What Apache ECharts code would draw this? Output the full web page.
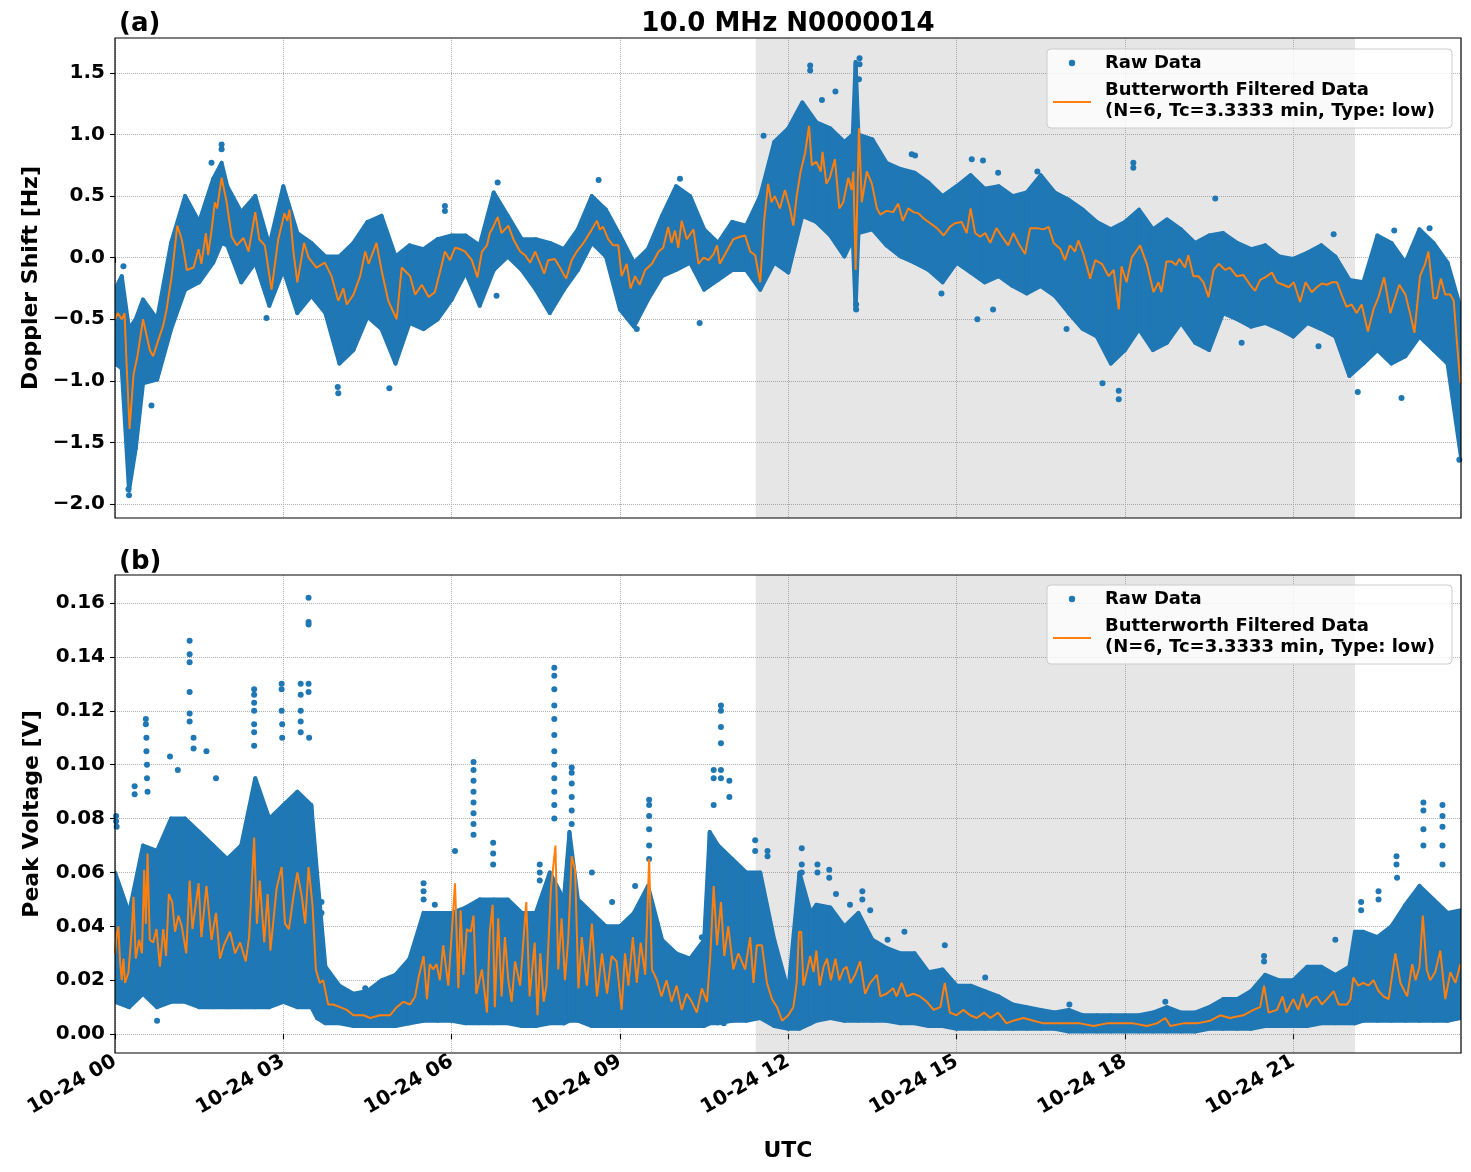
<!DOCTYPE html>
<html>
<head>
<meta charset="utf-8">
<script src="https://cdn.jsdelivr.net/npm/echarts@6/dist/echarts.min.js"></script>
<style>
  html, body { margin: 0; padding: 0; background: #fff; }
  #chart { width: 1471px; height: 1172px; }
</style>
</head>
<body>
<div id="chart"></div>
<script>
// ---- data (hours after 10-24 00:00 UTC) ----

// x ticks (hours)
const hourTicks = [0, 3, 6, 9, 12, 15, 18, 21];
const dopplerTicks = [-2.0, -1.5, -1.0, -0.5, 0.0, 0.5, 1.0, 1.5];
const voltTicks = [0, 0.02, 0.04, 0.06, 0.08, 0.1, 0.12, 0.14, 0.16];

// shaded interval
const shadeStart = 11.42;
const shadeEnd = 22.10;

// (a) raw data envelope of the dense cloud
const dopEnvT = [0, 0.12, 0.25, 0.37, 0.5, 0.75, 1.0, 1.25, 1.5, 1.75, 1.9, 2.0, 2.25, 2.5, 2.75, 3.0, 3.25, 3.5, 3.75,
  4.0, 4.25, 4.5, 4.75, 5.0, 5.25, 5.5, 5.75, 6.0, 6.25, 6.5, 6.75, 7.0, 7.25, 7.5, 7.75, 8.0, 8.25, 8.5, 8.75,
  9.0, 9.25, 9.5, 9.75, 10.0, 10.25, 10.5, 10.75, 11.0, 11.25, 11.5, 11.75, 12.0, 12.25, 12.5, 12.75, 13.0,
  13.15, 13.2, 13.25, 13.5, 13.75, 14.0, 14.25, 14.5, 14.75, 15.0, 15.25, 15.5, 15.75, 16.0, 16.25, 16.5, 16.75,
  17.0, 17.25, 17.5, 17.75, 18.0, 18.25, 18.5, 18.75, 19.0, 19.25, 19.5, 19.75, 20.0, 20.25, 20.5, 20.75, 21.0,
  21.25, 21.5, 21.75, 22.0, 22.25, 22.5, 22.75, 23.0, 23.25, 23.5, 23.75, 23.99];
const dopEnvHi = [-0.26, -0.15, -0.58, -0.50, -0.34, -0.50, 0.12, 0.50, 0.29, 0.64, 0.77, 0.58, 0.37, 0.50, 0.10, 0.58, 0.20, 0.12, 0.01,
  0.01, 0.12, 0.29, 0.34, 0.01, 0.10, 0.07, 0.15, 0.18, 0.18, 0.10, 0.53, 0.34, 0.15, 0.15, 0.12, 0.07, 0.23, 0.50, 0.39,
  0.18, -0.04, 0.07, 0.34, 0.58, 0.50, 0.23, 0.12, 0.29, 0.26, 0.50, 0.94, 1.05, 1.26, 1.10, 1.05, 0.94,
  1.00, 1.59, 1.00, 0.96, 0.77, 0.72, 0.69, 0.61, 0.50, 0.58, 0.67, 0.56, 0.58, 0.50, 0.53, 0.67, 0.53,
  0.47, 0.39, 0.29, 0.23, 0.29, 0.39, 0.23, 0.31, 0.23, 0.12, 0.18, 0.20, 0.12, 0.07, 0.10, 0.01, -0.01,
  0.04, 0.10, 0.01, -0.18, -0.20, 0.18, 0.12, -0.04, 0.23, 0.12, -0.04, -0.42];
const dopEnvLo = [-0.86, -0.90, -1.89, -1.55, -1.02, -0.99, -0.58, -0.26, -0.20, -0.04, 0.12, 0.10, -0.20, -0.04, -0.39, -0.10, -0.45, -0.31, -0.45,
  -0.86, -0.75, -0.48, -0.58, -0.86, -0.53, -0.58, -0.50, -0.34, -0.12, -0.39, -0.10, 0.01, -0.10, -0.26, -0.45, -0.26, -0.10, 0.12, 0.01,
  -0.42, -0.56, -0.34, -0.15, -0.10, -0.04, -0.26, -0.18, -0.10, -0.10, -0.26, -0.04, -0.12, 0.34, 0.29, 0.18, 0.01,
  0.15, -0.42, 0.20, 0.23, 0.10, 0.01, -0.04, -0.10, -0.20, -0.04, -0.12, -0.20, -0.15, -0.23, -0.29, -0.23, -0.31,
  -0.45, -0.58, -0.64, -0.86, -0.75, -0.58, -0.75, -0.69, -0.53, -0.69, -0.75, -0.45, -0.50, -0.56, -0.53, -0.58, -0.64,
  -0.53, -0.58, -0.64, -0.96, -0.86, -0.75, -0.86, -0.80, -0.64, -0.75, -0.86, -1.62];

// (a) isolated raw points
const dopOutliers = [[0.15, -0.07], [0.25, -1.93], [0.24, -1.88], [0.65, -1.20], [1.72, 0.77], [1.90, 0.92], [1.90, 0.88],
  [2.70, -0.49], [3.98, -1.10], [3.97, -1.05], [4.89, -1.06], [5.88, 0.42], [5.88, 0.38], [6.80, -0.31], [6.82, 0.61],
  [8.62, 0.63], [9.30, -0.58], [10.07, 0.64], [10.42, -0.53], [11.56, 0.99], [12.39, 1.56], [12.39, 1.52], [12.60, 1.28],
  [12.84, 1.35], [13.27, 1.62], [13.27, 1.57], [13.26, 1.45], [13.21, -0.42], [13.21, -0.38], [14.20, 0.84], [14.26, 0.83],
  [14.73, -0.29], [15.27, 0.80], [15.37, -0.50], [15.47, 0.79], [15.65, -0.42], [15.74, 0.69], [16.44, 0.70],
  [16.96, -0.58], [17.60, -1.02], [17.89, -1.15], [17.89, -1.08], [18.15, 0.77], [18.15, 0.73], [19.61, 0.48],
  [20.08, -0.69], [21.45, -0.72], [21.72, 0.19], [22.15, -1.09], [22.80, 0.22], [22.93, -1.14], [23.43, 0.24], [23.96, -1.64]];

// (a) Butterworth filtered
const dopFiltered = [[0, -0.50], [0.05, -0.45], [0.12, -0.50], [0.17, -0.45], [0.21, -0.90], [0.26, -1.39], [0.33, -0.95], [0.40, -0.80],
  [0.50, -0.50], [0.62, -0.75], [0.68, -0.80], [0.75, -0.70], [0.86, -0.55], [0.92, -0.42], [1.01, -0.15], [1.11, 0.26], [1.19, 0.15],
  [1.28, -0.10], [1.40, -0.08], [1.49, 0.07], [1.54, -0.05], [1.62, 0.20], [1.66, 0.02], [1.72, 0.22], [1.78, 0.45], [1.82, 0.40],
  [1.90, 0.65], [1.99, 0.45], [2.08, 0.17], [2.17, 0.10], [2.29, 0.16], [2.38, 0.05], [2.50, 0.37], [2.57, 0.15], [2.67, 0.10],
  [2.79, -0.26], [2.91, 0.15], [3.02, 0.36], [3.07, 0.30], [3.11, 0.39], [3.18, 0.05], [3.25, -0.20], [3.37, 0.12], [3.45, 0.00],
  [3.59, -0.08], [3.74, -0.04], [3.86, -0.15], [3.98, -0.35], [4.07, -0.25], [4.13, -0.38], [4.25, -0.30], [4.37, -0.15], [4.46, 0.05],
  [4.52, -0.05], [4.66, 0.12], [4.75, -0.10], [4.87, -0.35], [5.02, -0.50], [5.11, -0.08], [5.26, -0.15], [5.35, -0.30], [5.47, -0.22],
  [5.59, -0.32], [5.70, -0.28], [5.79, -0.12], [5.88, 0.05], [5.97, -0.02], [6.06, 0.08], [6.15, 0.07], [6.24, 0.05], [6.36, -0.02],
  [6.46, -0.16], [6.54, 0.05], [6.63, 0.10], [6.68, 0.20], [6.74, 0.25], [6.82, 0.33], [6.89, 0.20], [7.01, 0.26], [7.10, 0.15],
  [7.22, 0.05], [7.31, 0.02], [7.40, -0.04], [7.49, 0.05], [7.58, -0.05], [7.65, -0.13], [7.72, -0.02], [7.84, -0.01], [7.93, -0.08],
  [8.04, -0.17], [8.14, -0.02], [8.23, 0.05], [8.35, 0.12], [8.50, 0.23], [8.59, 0.30], [8.64, 0.23], [8.70, 0.25], [8.79, 0.15],
  [8.88, 0.10], [8.97, 0.10], [9.03, -0.15], [9.12, -0.05], [9.19, -0.25], [9.27, -0.15], [9.35, -0.22], [9.45, -0.10], [9.57, -0.05],
  [9.69, 0.05], [9.77, 0.08], [9.86, 0.25], [9.92, 0.12], [9.98, 0.22], [10.04, 0.08], [10.10, 0.30], [10.19, 0.15], [10.31, 0.23],
  [10.40, -0.05], [10.49, 0.00], [10.58, -0.02], [10.67, 0.03], [10.73, 0.10], [10.78, -0.05], [10.90, 0.05], [11.02, 0.15],
  [11.14, 0.17], [11.23, 0.18], [11.32, 0.05], [11.41, 0.02], [11.50, -0.20], [11.57, 0.30], [11.64, 0.60], [11.70, 0.45],
  [11.76, 0.50], [11.85, 0.40], [11.94, 0.55], [12.03, 0.40], [12.09, 0.26], [12.15, 0.50], [12.22, 0.70], [12.30, 0.85],
  [12.37, 1.07], [12.42, 0.75], [12.50, 0.78], [12.58, 0.70], [12.61, 0.86], [12.68, 0.60], [12.74, 0.65], [12.83, 0.80],
  [12.91, 0.40], [12.98, 0.45], [13.07, 0.65], [13.13, 0.55], [13.16, 0.70], [13.20, -0.10], [13.26, 1.05], [13.31, 0.45],
  [13.40, 0.70], [13.49, 0.60], [13.58, 0.40], [13.64, 0.35], [13.75, 0.38], [13.87, 0.37], [13.96, 0.44], [14.04, 0.30],
  [14.14, 0.40], [14.23, 0.37], [14.32, 0.36], [14.41, 0.32], [14.53, 0.28], [14.65, 0.24], [14.77, 0.18], [14.88, 0.25],
  [14.97, 0.28], [15.09, 0.29], [15.18, 0.20], [15.25, 0.40], [15.33, 0.20], [15.42, 0.17], [15.51, 0.20], [15.60, 0.12],
  [15.71, 0.24], [15.81, 0.17], [15.92, 0.10], [16.01, 0.20], [16.10, 0.12], [16.22, 0.03], [16.31, 0.24], [16.43, 0.24],
  [16.55, 0.23], [16.64, 0.25], [16.73, 0.12], [16.85, 0.07], [16.93, -0.02], [17.02, 0.10], [17.11, 0.05], [17.17, 0.14],
  [17.26, 0.03], [17.38, -0.17], [17.47, -0.02], [17.59, -0.05], [17.71, -0.15], [17.80, -0.10], [17.89, -0.42], [17.94, -0.07],
  [18.03, -0.20], [18.12, 0.00], [18.27, 0.10], [18.39, -0.05], [18.51, -0.28], [18.60, -0.20], [18.65, -0.28], [18.74, -0.03],
  [18.83, -0.03], [18.91, -0.06], [18.97, -0.01], [19.07, -0.08], [19.13, 0.02], [19.22, -0.15], [19.31, -0.15], [19.40, -0.20],
  [19.49, -0.32], [19.58, -0.10], [19.67, -0.05], [19.79, -0.10], [19.87, -0.08], [19.99, -0.15], [20.11, -0.14], [20.23, -0.22],
  [20.32, -0.27], [20.41, -0.18], [20.50, -0.16], [20.62, -0.12], [20.71, -0.20], [20.82, -0.22], [20.92, -0.24], [21.01, -0.20],
  [21.12, -0.36], [21.22, -0.20], [21.33, -0.28], [21.42, -0.24], [21.51, -0.21], [21.60, -0.22], [21.69, -0.20], [21.78, -0.20],
  [21.87, -0.31], [21.95, -0.40], [22.04, -0.38], [22.13, -0.45], [22.22, -0.38], [22.33, -0.60], [22.43, -0.42], [22.52, -0.32],
  [22.62, -0.16], [22.73, -0.45], [22.82, -0.32], [22.89, -0.22], [23.00, -0.30], [23.08, -0.45], [23.16, -0.61], [23.26, -0.15],
  [23.35, -0.05], [23.41, 0.05], [23.50, -0.33], [23.56, -0.33], [23.63, -0.17], [23.71, -0.30], [23.80, -0.30], [23.86, -0.35],
  [23.92, -0.70], [23.98, -1.02]];

// (b) raw data envelope of the dense cloud
const voltEnvT = [0, 0.25, 0.5, 0.75, 1.0, 1.25, 1.5, 1.75, 2.0, 2.25, 2.5, 2.75, 3.0, 3.25, 3.5, 3.6, 3.75, 4.0, 4.25,
  4.5, 4.75, 5.0, 5.25, 5.5, 5.75, 6.0, 6.25, 6.5, 6.75, 7.0, 7.25, 7.5, 7.75, 8.0, 8.1, 8.25, 8.5, 8.75, 9.0,
  9.25, 9.5, 9.75, 10.0, 10.25, 10.5, 10.6, 10.75, 11.0, 11.25, 11.5, 11.75, 12.0, 12.2, 12.4, 12.5, 12.75, 13.0,
  13.25, 13.5, 13.75, 14.0, 14.25, 14.5, 14.75, 15.0, 15.25, 15.5, 15.75, 16.0, 16.25, 16.5, 16.75, 17.0, 17.25,
  17.5, 17.75, 18.0, 18.25, 18.5, 18.75, 19.0, 19.25, 19.5, 19.75, 20.0, 20.25, 20.5, 20.75, 21.0, 21.25, 21.5,
  21.75, 22.0, 22.1, 22.25, 22.5, 22.75, 23.0, 23.25, 23.5, 23.75, 23.99];
const voltEnvHi = [0.060, 0.045, 0.070, 0.068, 0.080, 0.080, 0.075, 0.070, 0.065, 0.070, 0.095, 0.080, 0.085, 0.090, 0.085, 0.060, 0.025, 0.018, 0.015,
  0.016, 0.020, 0.022, 0.028, 0.045, 0.045, 0.045, 0.047, 0.050, 0.050, 0.050, 0.045, 0.045, 0.060, 0.050, 0.075, 0.050, 0.045, 0.040, 0.040,
  0.045, 0.055, 0.035, 0.030, 0.028, 0.035, 0.075, 0.070, 0.065, 0.060, 0.060, 0.035, 0.016, 0.060, 0.045, 0.048, 0.047, 0.040,
  0.045, 0.035, 0.032, 0.030, 0.030, 0.023, 0.024, 0.018, 0.018, 0.016, 0.014, 0.011, 0.010, 0.009, 0.008, 0.009, 0.007,
  0.007, 0.007, 0.007, 0.007, 0.008, 0.010, 0.008, 0.008, 0.010, 0.013, 0.013, 0.016, 0.022, 0.020, 0.020, 0.025, 0.025,
  0.022, 0.025, 0.038, 0.038, 0.036, 0.040, 0.048, 0.055, 0.050, 0.045, 0.046];
const voltEnvLo = [0.012, 0.010, 0.015, 0.010, 0.012, 0.012, 0.010, 0.010, 0.010, 0.010, 0.010, 0.010, 0.012, 0.010, 0.010, 0.006, 0.004, 0.004, 0.003,
  0.003, 0.003, 0.003, 0.004, 0.005, 0.005, 0.005, 0.004, 0.004, 0.004, 0.004, 0.003, 0.003, 0.004, 0.004, 0.005, 0.005, 0.003, 0.003, 0.003,
  0.003, 0.003, 0.003, 0.003, 0.003, 0.003, 0.004, 0.004, 0.005, 0.005, 0.006, 0.003, 0.002, 0.002, 0.004, 0.005, 0.006, 0.005,
  0.005, 0.005, 0.005, 0.004, 0.004, 0.003, 0.003, 0.002, 0.002, 0.002, 0.002, 0.002, 0.002, 0.002, 0.002, 0.001, 0.001,
  0.001, 0.001, 0.001, 0.001, 0.001, 0.001, 0.001, 0.001, 0.002, 0.002, 0.002, 0.002, 0.003, 0.003, 0.003, 0.003, 0.004,
  0.004, 0.004, 0.004, 0.005, 0.005, 0.005, 0.005, 0.005, 0.005, 0.005, 0.006];

// (b) isolated raw points (spikes)
const voltOutliers = [[0.02, 0.081], [0.02, 0.079], [0.03, 0.077], [0.35, 0.092], [0.35, 0.089],
  [0.55, 0.117], [0.55, 0.115], [0.56, 0.110], [0.56, 0.105], [0.57, 0.100], [0.57, 0.095], [0.58, 0.090], [0.75, 0.005],
  [0.98, 0.103], [1.12, 0.098], [1.33, 0.146], [1.33, 0.141], [1.33, 0.138], [1.33, 0.127], [1.33, 0.119], [1.33, 0.116],
  [1.40, 0.110], [1.40, 0.106], [1.63, 0.105], [1.80, 0.095],
  [2.48, 0.128], [2.48, 0.126], [2.48, 0.123], [2.48, 0.120], [2.48, 0.115], [2.48, 0.112], [2.48, 0.107],
  [2.97, 0.130], [2.97, 0.128], [2.97, 0.120], [2.98, 0.115], [2.98, 0.110],
  [3.31, 0.130], [3.31, 0.126], [3.31, 0.120], [3.31, 0.116], [3.31, 0.112],
  [3.45, 0.162], [3.45, 0.153], [3.45, 0.152], [3.45, 0.130], [3.45, 0.127], [3.46, 0.110],
  [3.68, 0.049], [3.68, 0.045], [4.46, 0.017], [5.50, 0.056], [5.50, 0.053], [5.50, 0.050], [5.70, 0.048],
  [6.06, 0.068], [6.39, 0.101], [6.39, 0.098], [6.39, 0.094], [6.39, 0.090], [6.39, 0.086], [6.39, 0.082], [6.39, 0.078], [6.39, 0.074],
  [6.74, 0.071], [6.74, 0.067], [6.74, 0.063], [7.57, 0.063], [7.57, 0.060], [7.57, 0.057],
  [7.83, 0.136], [7.83, 0.133], [7.83, 0.128], [7.83, 0.122], [7.83, 0.117], [7.83, 0.111], [7.83, 0.105], [7.83, 0.100],
  [7.83, 0.095], [7.83, 0.090], [7.83, 0.085], [7.83, 0.080],
  [8.14, 0.099], [8.14, 0.097], [8.14, 0.093], [8.14, 0.088], [8.14, 0.083], [8.14, 0.078],
  [8.50, 0.060], [8.86, 0.049], [9.27, 0.055],
  [9.52, 0.087], [9.52, 0.085], [9.52, 0.081], [9.52, 0.076], [9.52, 0.070], [9.52, 0.065],
  [10.46, 0.036], [10.67, 0.098], [10.67, 0.095], [10.67, 0.085],
  [10.80, 0.122], [10.80, 0.120], [10.80, 0.114], [10.80, 0.108], [10.80, 0.098], [10.80, 0.095],
  [10.85, 0.004], [10.95, 0.094], [10.95, 0.088], [11.41, 0.072], [11.41, 0.068], [11.63, 0.068], [11.63, 0.066],
  [12.24, 0.069], [12.24, 0.063], [12.24, 0.060], [12.52, 0.063], [12.52, 0.060], [12.73, 0.061], [12.73, 0.058],
  [12.85, 0.052], [13.10, 0.048], [13.32, 0.053], [13.32, 0.050], [13.46, 0.046], [13.77, 0.035], [14.07, 0.038],
  [14.79, 0.033], [15.51, 0.021], [17.01, 0.011], [18.72, 0.012], [20.48, 0.029], [20.48, 0.027], [21.75, 0.035],
  [22.21, 0.049], [22.21, 0.046], [22.52, 0.053], [22.52, 0.050], [22.84, 0.066], [22.84, 0.063], [22.85, 0.058],
  [23.32, 0.086], [23.32, 0.083], [23.32, 0.076], [23.32, 0.070],
  [23.66, 0.085], [23.66, 0.081], [23.66, 0.077], [23.66, 0.070], [23.66, 0.063]];

// (b) Butterworth filtered
const voltFiltered = [[0.00, 0.030], [0.03, 0.037], [0.06, 0.040], [0.09, 0.027], [0.12, 0.020], [0.15, 0.028], [0.18, 0.019],
  [0.24, 0.023], [0.30, 0.039], [0.33, 0.051], [0.37, 0.028], [0.43, 0.035], [0.48, 0.030], [0.52, 0.061], [0.55, 0.041],
  [0.58, 0.067], [0.62, 0.035], [0.68, 0.034], [0.74, 0.039], [0.80, 0.025], [0.86, 0.039], [0.91, 0.029], [0.96, 0.052],
  [1.02, 0.049], [1.07, 0.038], [1.13, 0.044], [1.19, 0.040], [1.27, 0.030], [1.33, 0.057], [1.38, 0.039], [1.49, 0.056],
  [1.54, 0.036], [1.63, 0.055], [1.72, 0.035], [1.80, 0.045], [1.87, 0.028], [1.94, 0.033], [2.05, 0.038], [2.14, 0.030],
  [2.23, 0.034], [2.33, 0.027], [2.39, 0.036], [2.48, 0.073], [2.53, 0.041], [2.58, 0.057], [2.66, 0.034], [2.72, 0.052],
  [2.77, 0.031], [2.88, 0.054], [2.97, 0.062], [3.03, 0.041], [3.10, 0.039], [3.18, 0.051], [3.25, 0.060], [3.33, 0.051],
  [3.39, 0.041], [3.45, 0.062], [3.52, 0.048], [3.58, 0.024], [3.65, 0.019], [3.71, 0.020], [3.80, 0.011], [3.89, 0.011],
  [4.01, 0.010], [4.13, 0.009], [4.25, 0.007], [4.43, 0.007], [4.55, 0.006], [4.72, 0.007], [4.90, 0.007], [5.02, 0.010],
  [5.14, 0.012], [5.26, 0.011], [5.35, 0.014], [5.41, 0.021], [5.50, 0.029], [5.56, 0.013], [5.61, 0.026], [5.67, 0.024],
  [5.73, 0.026], [5.79, 0.020], [5.85, 0.033], [5.94, 0.018], [6.06, 0.056], [6.12, 0.017], [6.16, 0.046], [6.21, 0.022],
  [6.27, 0.039], [6.34, 0.038], [6.39, 0.044], [6.44, 0.015], [6.54, 0.024], [6.63, 0.008], [6.68, 0.038], [6.73, 0.048],
  [6.77, 0.010], [6.83, 0.043], [6.89, 0.014], [6.95, 0.036], [7.01, 0.020], [7.07, 0.012], [7.13, 0.027], [7.22, 0.018],
  [7.33, 0.049], [7.39, 0.014], [7.48, 0.034], [7.53, 0.007], [7.58, 0.030], [7.64, 0.012], [7.69, 0.018], [7.77, 0.054],
  [7.85, 0.070], [7.90, 0.024], [7.96, 0.043], [8.02, 0.020], [8.08, 0.036], [8.14, 0.066], [8.20, 0.061], [8.26, 0.017],
  [8.32, 0.036], [8.41, 0.018], [8.50, 0.041], [8.59, 0.014], [8.68, 0.030], [8.77, 0.015], [8.85, 0.029], [8.94, 0.027],
  [9.03, 0.009], [9.09, 0.030], [9.15, 0.018], [9.23, 0.036], [9.30, 0.019], [9.37, 0.034], [9.45, 0.022], [9.52, 0.065],
  [9.57, 0.024], [9.66, 0.020], [9.74, 0.014], [9.83, 0.020], [9.92, 0.012], [10.01, 0.018], [10.10, 0.009], [10.19, 0.015],
  [10.28, 0.012], [10.37, 0.008], [10.46, 0.017], [10.55, 0.012], [10.61, 0.029], [10.67, 0.055], [10.73, 0.033],
  [10.80, 0.049], [10.86, 0.029], [10.93, 0.040], [11.02, 0.024], [11.11, 0.030], [11.23, 0.024], [11.32, 0.036],
  [11.38, 0.019], [11.44, 0.033], [11.53, 0.033], [11.62, 0.019], [11.71, 0.013], [11.80, 0.010], [11.89, 0.005],
  [12.00, 0.007], [12.09, 0.010], [12.15, 0.019], [12.19, 0.038], [12.23, 0.038], [12.27, 0.018], [12.34, 0.024],
  [12.39, 0.029], [12.45, 0.023], [12.50, 0.031], [12.56, 0.018], [12.63, 0.025], [12.69, 0.028], [12.76, 0.020],
  [12.84, 0.028], [12.91, 0.020], [12.98, 0.024], [13.04, 0.025], [13.11, 0.019], [13.19, 0.022], [13.28, 0.027],
  [13.37, 0.015], [13.46, 0.019], [13.58, 0.022], [13.64, 0.014], [13.75, 0.015], [13.87, 0.017], [13.93, 0.014],
  [14.02, 0.019], [14.11, 0.014], [14.23, 0.015], [14.35, 0.014], [14.47, 0.012], [14.59, 0.009], [14.71, 0.010],
  [14.79, 0.019], [14.88, 0.008], [15.00, 0.007], [15.12, 0.009], [15.24, 0.007], [15.36, 0.006], [15.49, 0.008],
  [15.60, 0.006], [15.74, 0.008], [15.89, 0.004], [16.01, 0.005], [16.19, 0.006], [16.37, 0.005], [16.55, 0.004],
  [16.79, 0.004], [17.02, 0.004], [17.20, 0.004], [17.44, 0.003], [17.68, 0.004], [17.92, 0.004], [18.15, 0.004],
  [18.39, 0.003], [18.57, 0.004], [18.72, 0.006], [18.81, 0.003], [19.04, 0.004], [19.28, 0.004], [19.52, 0.005],
  [19.70, 0.007], [19.87, 0.006], [20.11, 0.007], [20.29, 0.009], [20.41, 0.010], [20.48, 0.018], [20.56, 0.008],
  [20.71, 0.009], [20.81, 0.014], [20.88, 0.008], [21.00, 0.013], [21.09, 0.009], [21.17, 0.015], [21.24, 0.010],
  [21.33, 0.013], [21.42, 0.014], [21.51, 0.011], [21.60, 0.013], [21.72, 0.016], [21.81, 0.011], [21.96, 0.011],
  [22.02, 0.013], [22.07, 0.021], [22.16, 0.018], [22.25, 0.019], [22.34, 0.018], [22.43, 0.020], [22.52, 0.016],
  [22.61, 0.014], [22.70, 0.013], [22.82, 0.030], [22.91, 0.019], [23.03, 0.014], [23.12, 0.026], [23.18, 0.020],
  [23.25, 0.025], [23.31, 0.044], [23.38, 0.024], [23.44, 0.020], [23.53, 0.023], [23.62, 0.031], [23.71, 0.013],
  [23.80, 0.023], [23.89, 0.019], [23.98, 0.026]];

// ---- styling ----
const BLUE = '#1f77b4';
const ORANGE = '#ff7f0e';
const FONT = '"DejaVu Sans", sans-serif';
const FILT_NAME = 'Butterworth Filtered Data\n(N=6, Tc=3.3333 min, Type: low)';
const GRIDS = [
  { left: 115, top: 38, width: 1346, height: 480 },
  { left: 115, top: 575, width: 1346, height: 478 }
];

function minus(s) { return s.replace('-', '\u2212'); }

function xAxisFor(i, showLabels) {
  return {
    type: 'value', gridIndex: i, min: 0, max: 23.99,
    axisLine: { show: false },
    axisTick: { show: true, customValues: hourTicks, length: 5, lineStyle: { color: '#000', width: 1.1 } },
    axisLabel: {
      show: showLabels, customValues: hourTicks, rotate: 30, margin: 7,
      formatter: v => '10-24 ' + String(Math.round(v)).padStart(2, '0'),
      fontFamily: FONT, fontWeight: 'bold', fontSize: 20, color: '#000'
    },
    splitLine: { show: true, lineStyle: { color: '#b0b0b0', type: 'dotted', width: 1 } },
    name: showLabels ? 'UTC' : '', nameLocation: 'middle', nameGap: 87,
    nameTextStyle: { fontFamily: FONT, fontWeight: 'bold', fontSize: 22, color: '#000' }
  };
}

function yAxisFor(i, min, max, ticks, digits, name) {
  return {
    type: 'value', gridIndex: i, min: min, max: max,
    axisLine: { show: false },
    axisTick: { show: true, customValues: ticks, length: 5, lineStyle: { color: '#000', width: 1.1 } },
    axisLabel: {
      customValues: ticks, margin: 10,
      formatter: v => minus(v.toFixed(digits)),
      fontFamily: FONT, fontWeight: 'bold', fontSize: 20, color: '#000'
    },
    splitLine: { show: true, lineStyle: { color: '#b0b0b0', type: 'dotted', width: 1 } },
    name: name, nameLocation: 'middle', nameGap: 72, nameRotate: 90,
    nameTextStyle: { fontFamily: FONT, fontWeight: 'bold', fontSize: 22, color: '#000' }
  };
}

// band of the dense raw cloud: one quad per pair of neighbouring envelope samples
function bandRenderItem(params, api) {
  const pts = [
    api.coord([api.value(0), api.value(1)]),
    api.coord([api.value(0), api.value(2)]),
    api.coord([api.value(3), api.value(5)]),
    api.coord([api.value(3), api.value(4)])
  ];
  return {
    type: 'polygon',
    shape: { points: pts },
    style: { fill: BLUE, stroke: BLUE, lineWidth: 4, lineJoin: 'round' }
  };
}

function panelSeries(i, envT, envHi, envLo, outliers, filtered) {
  const segs = [];
  for (let k = 0; k < envT.length - 1; k++) {
    segs.push([envT[k], envLo[k], envHi[k], envT[k + 1], envLo[k + 1], envHi[k + 1]]);
  }
  return [
    {
      type: 'line', xAxisIndex: i, yAxisIndex: i, data: [], z: 1, silent: true,
      markArea: {
        silent: true, label: { show: false },
        itemStyle: { color: 'rgba(128,128,128,0.2)' },
        data: [[{ xAxis: shadeStart }, { xAxis: shadeEnd }]]
      }
    },
    {
      type: 'custom', name: 'Raw Data', xAxisIndex: i, yAxisIndex: i, data: segs,
      encode: { x: [0, 3], y: [1, 2, 4, 5] }, renderItem: bandRenderItem,
      clip: true, silent: true, z: 2
    },
    {
      type: 'scatter', name: 'Raw Data', xAxisIndex: i, yAxisIndex: i, data: outliers,
      symbolSize: 6, itemStyle: { color: BLUE, opacity: 1 }, z: 3
    },
    {
      type: 'line', name: FILT_NAME, xAxisIndex: i, yAxisIndex: i, data: filtered,
      symbol: 'none', z: 5, lineStyle: { color: ORANGE, width: 2 }
    }
  ];
}

function legendBox(top) {
  const textStyle = (t, y) => ({
    type: 'text', x: 1105, y: y, z: 102,
    style: { text: t, font: 'bold 18px ' + FONT, fill: '#000', textVerticalAlign: 'middle', verticalAlign: 'middle' }
  });
  return [
    { type: 'rect', x: 1047, y: top, z: 100,
      shape: { width: 405, height: 79, r: 4 },
      style: { fill: 'rgba(255,255,255,0.8)', stroke: '#cccccc', lineWidth: 1 } },
    { type: 'circle', z: 101, shape: { cx: 1072, cy: top + 14, r: 3.2 }, style: { fill: BLUE } },
    textStyle('Raw Data', top + 14),
    { type: 'line', z: 101, shape: { x1: 1053, y1: top + 53, x2: 1091, y2: top + 53 },
      style: { stroke: ORANGE, lineWidth: 2 } },
    textStyle('Butterworth Filtered Data', top + 41),
    textStyle('(N=6, Tc=3.3333 min, Type: low)', top + 62)
  ];
}

function frame(g) {
  return { type: 'rect', x: g.left, y: g.top, z: 90, silent: true,
    shape: { width: g.width, height: g.height },
    style: { fill: null, stroke: '#000', lineWidth: 1.2 } };
}

const chart = echarts.init(document.getElementById('chart'), null, { renderer: 'canvas' });
const option = {
  animation: false,
  backgroundColor: '#fff',
  title: [
    { text: '10.0 MHz N0000014', left: 783, top: 6, textAlign: 'center',
      textStyle: { fontFamily: FONT, fontWeight: 'bold', fontSize: 26, color: '#000' } },
    { text: '(a)', left: 114, top: 6,
      textStyle: { fontFamily: FONT, fontWeight: 'bold', fontSize: 26, color: '#000' } },
    { text: '(b)', left: 114, top: 544,
      textStyle: { fontFamily: FONT, fontWeight: 'bold', fontSize: 26, color: '#000' } }
  ],
  grid: GRIDS,
  xAxis: [xAxisFor(0, false), xAxisFor(1, true)],
  yAxis: [
    yAxisFor(0, -2.114, 1.784, dopplerTicks, 1, 'Doppler Shift [Hz]'),
    yAxisFor(1, -0.007, 0.1704, voltTicks, 2, 'Peak Voltage [V]')
  ],
  series: [
    ...panelSeries(0, dopEnvT, dopEnvHi, dopEnvLo, dopOutliers, dopFiltered),
    ...panelSeries(1, voltEnvT, voltEnvHi, voltEnvLo, voltOutliers, voltFiltered)
  ],
  graphic: [frame(GRIDS[0]), frame(GRIDS[1]), ...legendBox(49), ...legendBox(585)]
};
chart.setOption(option);
</script>
</body>
</html>
